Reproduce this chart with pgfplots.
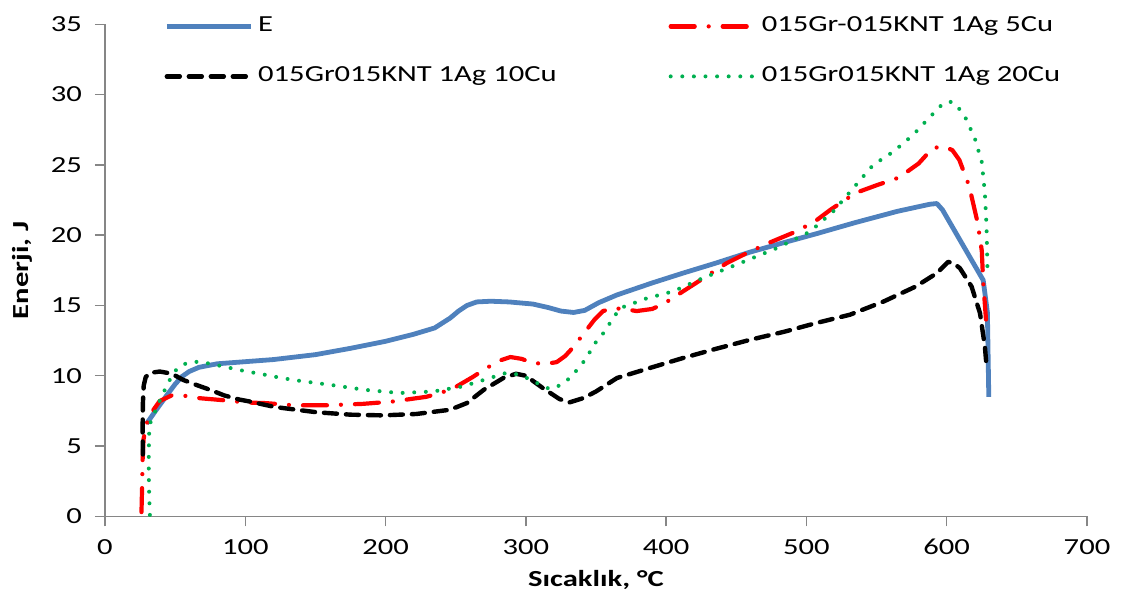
\documentclass[border=0pt]{standalone}
\usepackage{fontspec}
\setmainfont{Carlito}[FakeStretch=1.33]
\usepackage{pgfplots}
\pgfplotsset{compat=1.18}
\definecolor{seriesE}{RGB}{79,129,189}
\definecolor{axisgray}{RGB}{134,134,134}
\definecolor{cuRed}{RGB}{255,0,0}
\definecolor{cuGreen}{RGB}{0,176,80}
\newcommand{\chartfont}{\fontsize{11.5}{14}\selectfont}
\begin{document}
\begin{tikzpicture}
\begin{axis}[
  name=ax,
  scale only axis,
  width=491pt, height=246pt,
  xmin=0, xmax=700, ymin=0, ymax=35,
  xtick={0,100,...,700}, ytick={0,5,...,35},
  axis x line=bottom, axis y line=left,
  axis line style={draw=axisgray, line width=0.75pt, -},
  tick style={draw=axisgray, line width=0.75pt},
  tick align=outside, major tick length=5pt,
  /pgf/number format/assume math mode=true,
  tick label style={font=\chartfont, text=black},
  xticklabel style={yshift=-3pt},
  yticklabel style={xshift=-3pt},
  xlabel={Sıcaklık, °C},
  ylabel={Enerji, J},
  label style={font=\chartfont\bfseries},
  xlabel style={at={(axis description cs:0.5,-0.13)}, anchor=center},
  ylabel style={at={(axis description cs:-0.0845,0.5)}, anchor=center},
  legend columns=2,
  legend style={at={(rel axis cs:0.054,1.026)}, anchor=north west,
    draw=none, fill=none, font=\chartfont,
    nodes={text height=8pt, text depth=2.5pt, inner sep=0pt, anchor=west},
    row sep=14.5pt,
    /tikz/every odd column/.append style={column sep=2.5pt},
    /tikz/every even column/.append style={column sep=56pt}},
  legend cell align=left,
  legend image code/.code={\draw[#1] (0pt,0pt) -- (42pt,0pt);},
]
% E
\addplot[seriesE, line width=2.4pt, line join=round] coordinates {
(29.7,6.6) (36,7.5) (44,8.6) (50,9.4) (55,9.95) (60,10.3) (67,10.6)
(80,10.85) (100,11.0) (120,11.15) (150,11.5) (175,11.95) (200,12.45)
(220,12.95) (235,13.4) (246,14.1) (252,14.6) (258,15.0) (265,15.25)
(275,15.3) (288,15.25) (305,15.1) (316,14.85) (325,14.6) (334,14.5)
(342,14.65) (352,15.2) (365,15.75) (390,16.6) (412,17.3) (435,18.0)
(460,18.8) (485,19.5) (507,20.1) (535,20.9) (565,21.7) (588,22.2)
(593,22.25) (597,21.8) (626,16.8) (629,14.5) (630,8.5)
};
\addlegendentry{E}
% 5Cu
\addplot[cuRed, line width=2.1pt, line cap=round, line join=round,
  dash pattern=on 12pt off 7pt on 0pt off 7pt] coordinates {
(26,0.3) (26.3,1.5) (26.5,2.5) (26.8,4.0) (27.5,5.5) (29.7,6.6) (34,7.5)
(39,8.2) (47.5,8.6) (55,8.6) (67.7,8.4) (85.5,8.25) (100,8.1) (115,8.05)
(134,7.9) (159,7.9) (184,8.0) (205.5,8.17) (229,8.5) (240,8.8)
(250.7,9.24) (262,9.9) (272,10.55) (282,11.1) (289,11.33) (297,11.2)
(305,10.9) (315,10.85) (322,10.97) (328,11.4) (334,12.05) (342,13.1)
(349,14.0) (355,14.6) (362,14.8) (370,14.75) (379,14.6) (390,14.75)
(398,15.1) (412,16.0) (426,16.9) (443,18.0) (457,18.7) (472,19.4)
(490,20.15) (505,20.9) (517,21.8) (535,23.0) (550,23.55) (566,24.1)
(580,25.1) (590,26.2) (598,26.3) (604,26.05) (609,25.35) (616,23.5)
(622,20.9) (625,18.9) (626,16.7) (628,14.0)
};
\addlegendentry{015Gr-015KNT 1Ag 5Cu}
% 10Cu
\addplot[black, line width=2.2pt, line cap=round, line join=round,
  dash pattern=on 6.5pt off 4.5pt] coordinates {
(27,4.4) (26.8,6) (27,8) (27.6,9.3) (29,9.9) (32,10.2) (39,10.3)
(47.5,10.15) (55.8,9.7) (65,9.35) (74.8,9.0) (85,8.6) (96,8.3)
(103,8.17) (120,7.8) (127,7.7) (151,7.4) (175,7.23) (198,7.18)
(222,7.28) (246,7.58) (258,8.06) (270,9.0) (284,9.84) (293,10.14)
(300,10.0) (312,9.13) (324,8.34) (331,8.1) (341,8.41) (350,8.88)
(365,9.84) (390,10.6) (412,11.26) (435,11.9) (460,12.56) (485,13.15)
(507,13.75) (531,14.34) (555,15.28) (578,16.35) (593,17.3) (601,18.1)
(605,18.0) (609.4,17.65) (617.7,16.35) (623.7,14.46) (627.2,12.08)
(628.4,10.66)
};
\addlegendentry{015Gr015KNT 1Ag 10Cu}
% 20Cu
\addplot[cuGreen, line width=2pt, line cap=round,
  dash pattern=on 0pt off 5.8pt] coordinates {
(32,0.1) (31.5,1.5) (31.2,3) (31.2,4.5) (31.5,6.0) (32.5,6.7) (34.4,7.1)
(37,7.8) (40.4,8.5) (44,9.3) (47.5,9.95) (52,10.6) (59.4,10.95)
(67.7,11.0) (84.3,10.66) (101,10.3) (110.5,10.14) (120,9.95) (134,9.7)
(160,9.36) (185,9.0) (210,8.77) (234,8.88) (255,9.24) (270,9.7)
(286,10.2) (296,10.07) (308,9.48) (317,9.05) (325.5,9.36) (332.6,9.95)
(342,11.1) (350,12.4) (355,13.0) (367,14.8) (386,15.5) (405,16.0)
(426,16.94) (450,17.9) (479,19.08) (502.5,20.25) (519,21.68) (533,23.3)
(547.6,25.0) (562,25.94) (576,27.13) (587,28.3) (597.5,29.38) (602,29.5)
(606,29.38) (613,28.43) (620,26.9) (625,25.2) (627.2,23.0) (628.4,20.6)
(629,17.8)
};
\addlegendentry{015Gr015KNT 1Ag 20Cu}
\end{axis}
\pgfresetboundingbox
\path ([shift={(-52.5pt,-39.15pt)}]ax.south west) rectangle ([shift={(17pt,12.15pt)}]ax.north east);
\end{tikzpicture}
\end{document}
